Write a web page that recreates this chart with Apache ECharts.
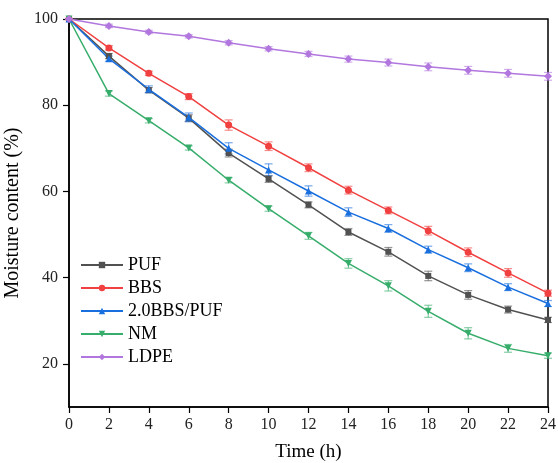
<!DOCTYPE html>
<html>
<head>
<meta charset="utf-8">
<script src="https://cdn.jsdelivr.net/npm/echarts@6/dist/echarts.min.js"></script>
<style>html,body{margin:0;padding:0;background:#fff}#c{width:558px;height:463px}</style>
</head>
<body>
<div id="c"></div>
<script>
const times = [0,2,4,6,8,10,12,14,16,18,20,22,24];
const yTicks = [20,40,60,80,100];
const xTicks = [0,2,4,6,8,10,12,14,16,18,20,22,24];

const names = ['PUF','BBS','2.0BBS/PUF','NM','LDPE'];
const colors = ['#515151','#F14040','#1A6FDF','#37AD6B','#B177DE'];
const symbols = ['rect','circle','triangle','path://M0,0 L10,0 L5,10 Z','diamond'];

const PUF  = [100,91.4,83.5,77.0,68.9,62.9,56.9,50.6,46.0,40.4,36.0,32.6,30.2];
const BBS  = [100,93.3,87.4,82.0,75.4,70.5,65.5,60.3,55.6,50.9,45.9,41.1,36.4];
const BBSPUF = [100,90.8,83.7,77.2,70.0,65.0,60.1,55.2,51.4,46.5,42.3,37.8,34.0];
const NM   = [100,82.7,76.4,70.1,62.6,56.0,49.7,43.3,38.1,32.2,27.1,23.6,21.9];
const LDPE = [100,98.4,97.0,96.0,94.5,93.1,91.9,90.7,89.9,88.9,88.1,87.4,86.7];

const errPUF  = [0,0.6,0.6,0.8,0.9,0.8,0.7,0.8,1.0,1.1,1.0,0.8,0.6];
const errBBS  = [0,0.5,0.5,0.7,1.2,1.0,0.9,0.9,0.8,1.0,1.0,1.0,0.7];
const errBBSPUF = [0,0.6,0.8,1.0,1.3,1.4,1.2,1.0,0.9,0.8,0.9,0.8,0.7];
const errNM   = [0,0.6,0.5,0.5,0.6,0.6,0.8,1.1,1.2,1.4,1.3,0.9,0.6];
const errLDPE = [0,0.4,0.4,0.4,0.5,0.5,0.6,0.7,0.8,0.9,0.9,0.9,0.9];

const values = [PUF,BBS,BBSPUF,NM,LDPE];
const errs = [errPUF,errBBS,errBBSPUF,errNM,errLDPE];

const font = 'Liberation Serif';
const series = [];
values.forEach((v,i)=>{
  series.push({
    type:'custom', name:names[i]+'_err', silent:true, z:1,
    data: times.map((t,k)=>[t, v[k]-errs[i][k], v[k]+errs[i][k]]),
    encode:{x:0,y:[1,2]},
    renderItem:function(params, api){
      const lo = api.coord([api.value(0), api.value(1)]);
      const hi = api.coord([api.value(0), api.value(2)]);
      const w = 4;
      const st = {stroke: colors[i], lineWidth:1.2, opacity:0.6};
      return {type:'group', children:[
        {type:'line', shape:{x1:lo[0],y1:lo[1],x2:hi[0],y2:hi[1]}, style:st},
        {type:'line', shape:{x1:lo[0]-w,y1:lo[1],x2:lo[0]+w,y2:lo[1]}, style:st},
        {type:'line', shape:{x1:hi[0]-w,y1:hi[1],x2:hi[0]+w,y2:hi[1]}, style:st}
      ]};
    }
  });
});
values.forEach((v,i)=>{
  series.push({
    type:'line', name:names[i], z:3,
    data: times.map((t,k)=>[t,v[k]]),
    symbol: symbols[i], symbolSize: i===4?8:(i===0?6:7),
    lineStyle:{color:colors[i], width:1.5},
    itemStyle:{color:colors[i], borderWidth:0},
    showSymbol:true
  });
});

const chart = echarts.init(document.getElementById('c'), null, {renderer:'canvas'});
chart.setOption({
  animation:false,
  backgroundColor:'#fff',
  grid:{left:69, right:10, top:19, bottom:56, show:true, borderColor:'#000', borderWidth:1.5,
        containLabel:false, outerBoundsMode:'none'},
  legend:{
    data:names, orient:'vertical', left:75, top:251,
    itemWidth:42, itemHeight:8, itemGap:5,
    textStyle:{fontFamily:font, fontSize:18, color:'#000'}
  },
  xAxis:{
    type:'value', min:0, max:24, interval:2,
    name:'Time (h)', nameLocation:'middle', nameGap:36,
    nameTextStyle:{fontFamily:font, fontSize:19, color:'#000'},
    axisLine:{show:true, lineStyle:{color:'#000', width:1.5}},
    axisTick:{show:true, inside:false, length:6, lineStyle:{color:'#000', width:1.2}},
    axisLabel:{fontFamily:font, fontSize:16, color:'#222', margin:10},
    splitLine:{show:false}
  },
  yAxis:{
    type:'value', min:10, max:100,
    name:'Moisture content (%)', nameLocation:'middle', nameGap:37,
    nameTextStyle:{fontFamily:font, fontSize:20, color:'#000'},
    axisLine:{show:true, lineStyle:{color:'#000', width:1.5}},
    axisTick:{show:true, length:6, customValues:yTicks, lineStyle:{color:'#000', width:1.2}},
    axisLabel:{fontFamily:font, fontSize:16, color:'#222', margin:11, customValues:yTicks},
    splitLine:{show:false}
  },
  series: series
});
</script>
</body>
</html>
